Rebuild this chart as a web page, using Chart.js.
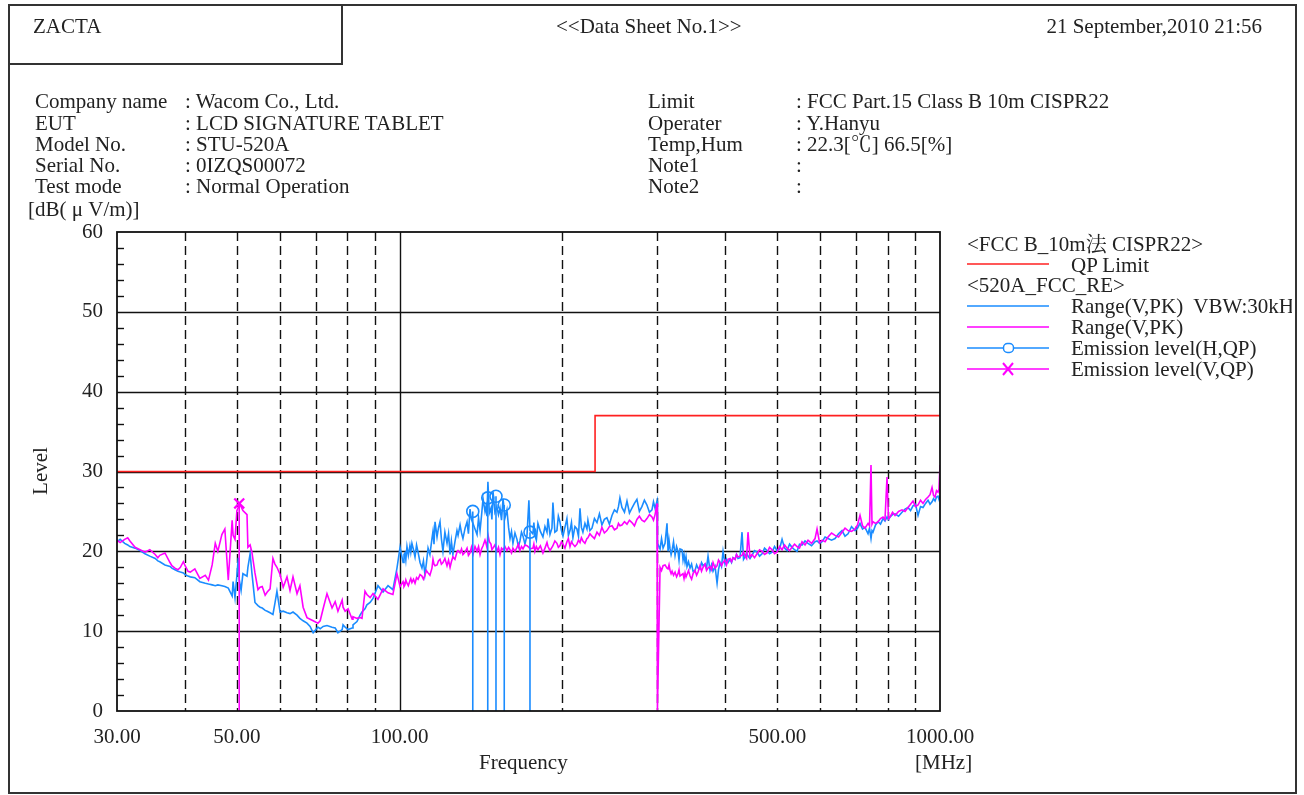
<!DOCTYPE html>
<html>
<head>
<meta charset="utf-8">
<script src="https://cdn.jsdelivr.net/npm/chart.js@4.4.0/dist/chart.umd.min.js"></script>
<style>
  html, body { margin: 0; padding: 0; background: #fff; }
  body {
    width: 1304px; height: 795px; position: relative; overflow: hidden;
    font-family: "Liberation Serif", "Noto Serif CJK JP", "Noto Sans CJK JP", serif;
    font-size: 21px; color: #222;
  }
  #chart { position: absolute; left: 0; top: 0; }
  .t { position: absolute; white-space: pre; line-height: 22px; z-index: 2; }
  .box { position: absolute; box-sizing: border-box; border: 2px solid #333; z-index: 3; }
  #legendSvg { position: absolute; left: 960px; top: 230px; z-index: 2; }
  #legendText { position: absolute; left: 0; top: 0; width: 1292px; height: 795px; overflow: hidden; z-index: 2; }
</style>
</head>
<body>
<canvas id="chart" width="1304" height="795"></canvas>

<div class="box" style="left:8px;top:4px;width:1289px;height:790px;"></div>
<div class="box" style="left:8px;top:4px;width:335px;height:61px;"></div>

<div class="t" style="left:33px;top:15px;">ZACTA</div>
<div class="t" style="left:556px;top:15px;">&lt;&lt;Data Sheet No.1&gt;&gt;</div>
<div class="t" style="right:42px;top:15px;">21 September,2010 21:56</div>

<div class="t" style="left:35px;top:90px;">Company name</div>
<div class="t" style="left:185px;top:90px;">: Wacom Co., Ltd.</div>
<div class="t" style="left:35px;top:112px;">EUT</div>
<div class="t" style="left:185px;top:112px;">: LCD SIGNATURE TABLET</div>
<div class="t" style="left:35px;top:133px;">Model No.</div>
<div class="t" style="left:185px;top:133px;">: STU-520A</div>
<div class="t" style="left:35px;top:154px;">Serial No.</div>
<div class="t" style="left:185px;top:154px;">: 0IZQS00072</div>
<div class="t" style="left:35px;top:175px;">Test mode</div>
<div class="t" style="left:185px;top:175px;">: Normal Operation</div>

<div class="t" style="left:648px;top:90px;">Limit</div>
<div class="t" style="left:796px;top:90px;">: FCC Part.15 Class B 10m CISPR22</div>
<div class="t" style="left:648px;top:112px;">Operater</div>
<div class="t" style="left:796px;top:112px;">: Y.Hanyu</div>
<div class="t" style="left:648px;top:133px;">Temp,Hum</div>
<div class="t" style="left:796px;top:133px;">: 22.3[℃] 66.5[%]</div>
<div class="t" style="left:648px;top:154px;">Note1</div>
<div class="t" style="left:796px;top:154px;">:</div>
<div class="t" style="left:648px;top:175px;">Note2</div>
<div class="t" style="left:796px;top:175px;">:</div>

<div class="t" style="left:28px;top:198px;">[dB( μ V/m)]</div>
<div class="t" style="left:14px;top:460px;width:52px;text-align:center;transform:rotate(-90deg);">Level</div>
<div class="t" style="left:479px;top:751px;">Frequency</div>
<div class="t" style="left:915px;top:751px;">[MHz]</div>

<div id="legendText">
  <div class="t" style="left:967px;top:233px;">&lt;FCC B_10m法 CISPR22&gt;</div>
  <div class="t" style="left:1071px;top:254px;">QP Limit</div>
  <div class="t" style="left:967px;top:274px;">&lt;520A_FCC_RE&gt;</div>
  <div class="t" style="left:1071px;top:295px;">Range(V,PK)  VBW:30kHz</div>
  <div class="t" style="left:1071px;top:316px;">Range(V,PK)</div>
  <div class="t" style="left:1071px;top:337px;">Emission level(H,QP)</div>
  <div class="t" style="left:1071px;top:358px;">Emission level(V,QP)</div>
</div>
<svg id="legendSvg" width="100" height="150">
  <line x1="7" y1="34" x2="89" y2="34" stroke="#ff2020" stroke-width="1.5"/>
  <line x1="7" y1="76" x2="89" y2="76" stroke="#1a8cff" stroke-width="1.5"/>
  <line x1="7" y1="97" x2="89" y2="97" stroke="#ff00ff" stroke-width="1.5"/>
  <line x1="7" y1="118" x2="89" y2="118" stroke="#1a8cff" stroke-width="1.5"/>
  <rect x="43.5" y="113.5" width="10" height="9" rx="4" fill="#fff" stroke="#1a8cff" stroke-width="1.5"/>
  <line x1="7" y1="139" x2="89" y2="139" stroke="#ff00ff" stroke-width="1.5"/>
  <line x1="43" y1="133" x2="53" y2="145" stroke="#ff00ff" stroke-width="2"/>
  <line x1="53" y1="133" x2="43" y2="145" stroke="#ff00ff" stroke-width="2"/>
</svg>

<script>
// 周波数 [MHz]
const freqs = [
  // 30 - 56 MHz
  30.0, 30.4, 31.0, 31.4, 31.7, 32.4, 33.1, 33.8, 34.5, 35.3, 35.7, 36.0, 36.8, 37.6, 37.9, 38.4, 38.9, 39.3, 39.8, 40.1,
  40.6, 41.0, 41.8, 42.7, 43.7, 44.3, 45.0, 45.6, 46.1, 46.9, 47.5, 48.2, 49.0, 49.2, 49.6, 50.0, 50.3, 50.5, 50.9, 51.3,
  52.2, 52.4, 52.9, 53.3, 54.0, 54.7, 55.2, 55.7, 56.4,
  // 56 - 100 MHz
  56.9, 57.6, 58.3, 58.8, 59.3, 60.1, 60.9, 61.9, 62.7, 63.5, 64.6, 65.4, 66.3, 67.4, 68.3, 69.2, 70.6, 71.3, 72.2, 73.4,
  75.0, 76.0, 76.9, 78.3, 78.6, 79.3, 80.3, 81.7, 82.0, 83.4, 84.5, 85.2, 86.3, 87.0, 88.2, 89.3, 91.2, 93.2, 95.2, 97.2,
  98.9, 100.2,
  // 100 - 175 MHz
  101.5, 101.9, 102.3, 102.7, 103.2, 103.8, 104.5, 104.9, 105.4, 106.1,
  106.8, 107.5, 108.2, 109.1, 110.0, 110.7, 111.4, 112.1, 112.9, 113.8,
  114.8, 115.3, 115.8, 116.3, 117.3, 118.0, 118.8, 119.5, 120.3, 121.3,
  122.4, 123.2, 124.0, 124.7, 125.5, 126.6, 127.7, 128.3, 129.4, 130.2,
  131.0, 132.2, 133.3, 134.1, 135.0, 135.8, 136.7, 137.9, 139.1, 140.0,
  140.9, 141.8, 142.7, 143.9, 144.5, 145.1, 145.7, 146.6, 147.6, 148.2,
  148.9, 150.1, 151.4, 152.4, 153.4, 154.4, 155.4, 156.7, 158.0, 159.1,
  160.1, 161.1, 162.1, 163.5, 164.9, 165.9, 167.0, 168.1, 169.2, 170.6,
  172.1, 173.5, 174.3,
  // 175 - 300 MHz
  176.5, 177.2, 178.0, 179.1, 180.3, 182.2, 184.2, 185.8, 187.4, 188.2,
  189.8, 191.4, 192.2, 193.8, 195.5, 196.7, 198.0, 199.3, 200.6, 202.3,
  204.0, 205.3, 206.7, 208.0, 209.3, 211.1, 212.9, 214.3, 215.7, 217.0,
  218.4, 220.3, 222.2, 223.1, 225.0, 227.0, 229.4, 231.9, 234.3, 236.8,
  239.3, 241.9, 244.5, 247.2, 249.8, 252.5, 254.1, 255.7, 257.9, 260.7,
  263.5, 266.3, 269.1, 272.0, 274.9, 277.8, 280.8, 283.8, 286.9, 290.0,
  293.1, 295.0, 297.0, 299.5, 300.0,
  // 300 - 545 MHz
  303.4, 305.3, 307.3, 309.9, 312.5, 313.9, 315.2, 316.6, 318.0, 319.3,
  321.3, 323.4, 325.5, 327.5, 328.9, 330.3, 333.2, 334.6, 336.0, 337.5,
  338.9, 340.3, 342.5, 344.7, 347.0, 349.2, 352.2, 354.5, 356.7, 359.7,
  362.0, 364.4, 367.5, 369.8, 372.2, 375.4, 377.8, 380.2, 383.5, 386.8,
  389.2, 391.7, 394.2, 396.8, 400.2, 402.7, 405.3, 408.8, 411.4, 414.0,
  417.6, 420.2, 422.9, 426.5, 430.2, 433.0, 435.7, 438.6, 441.3, 445.0,
  448.9, 453.7, 458.6, 463.5, 468.5, 473.5, 478.6, 483.7, 488.9, 494.1,
  499.4, 504.8, 510.2, 515.7, 521.2, 526.8, 532.4, 538.1, 543.8,
  // 545 - 1000 MHz
  549.6, 555.5, 562.7, 569.9, 578.5, 587.2, 592.2, 598.6, 605.0, 612.8,
  620.6, 630.0, 639.4, 649.0, 658.7, 667.2, 675.8, 686.0, 696.2, 703.7,
  711.2, 718.8, 726.5, 735.9, 740.6, 745.3, 748.5, 751.7, 759.8, 767.9,
  776.1, 784.4, 791.1, 797.9, 803.0, 808.2, 816.9, 825.6, 838.1, 850.6,
  861.6, 872.6, 882.0, 891.4, 901.0, 910.6, 920.4, 930.3, 940.3, 950.3,
  958.4, 966.6, 972.8, 979.1, 985.3, 991.6, 995.8, 1000.0
];

// Range(V,PK) VBW:30kHz [dB(uV/m)] (青)
const rangePkVbw = [
  21.2, 21.5, 21.0, 20.8, 20.6, 20.4, 20.1, 19.7, 19.4, 19.1, 18.8, 18.7, 18.3, 18.1, 17.9, 17.7, 17.5, 17.4, 17.3, 17.1,
  16.9, 16.8, 16.7, 16.2, 16.0, 15.9, 15.8, 15.7, 15.8, 15.7, 15.6, 15.4, 14.4, 16.2, 14.2, 17.0, 19.2, 16.5, 15.1, 17.2,
  16.9, 18.0, 19.7, 17.3, 13.6, 13.2, 13.0, 12.9, 12.6,
  12.5, 12.3, 12.1, 13.5, 15.0, 12.4, 12.5, 12.3, 12.2, 12.4, 12.0, 11.6, 11.3, 11.0, 10.6, 9.8, 10.5, 10.3, 10.6, 10.7,
  10.5, 10.4, 9.8, 10.2, 10.8, 10.5, 10.2, 10.4, 10.8, 11.2, 12.0, 12.4, 12.8, 13.3, 13.6, 14.1, 15.7, 14.9, 15.7, 15.2,
  17.9, 20.5,
  18.6, 19.6, 19.8, 18.9, 20.6, 19.5, 20.7, 19.9, 21.0, 20.2,
  19.3, 20.8, 19.9, 18.6, 17.9, 18.8, 17.1, 18.5, 20.4, 19.6,
  21.6, 22.5, 20.9, 23.7, 21.8, 22.9, 23.7, 21.6, 20.0, 22.4,
  21.0, 22.2, 19.6, 21.3, 19.6, 21.2, 22.6, 22.0, 23.3, 22.3,
  21.6, 22.9, 23.7, 22.2, 25.3, 24.0, 23.5, 22.8, 22.1, 24.2,
  22.6, 24.5, 26.6, 25.0, 25.6, 24.4, 28.7, 24.8, 25.4, 24.0,
  27.5, 24.9, 25.6, 24.6, 25.4, 23.9, 26.6, 24.2, 25.2, 23.0,
  21.6, 22.5, 21.0, 22.3, 21.5, 20.6, 21.3, 22.4, 21.9, 20.9,
  22.0, 26.4, 22.6,
  22.2, 23.6, 22.0, 21.4, 23.5, 22.5, 21.8, 23.1, 22.4, 24.1,
  22.1, 22.9, 26.1, 22.4, 22.6, 24.4, 23.7, 22.6, 21.9, 23.0,
  24.1, 22.0, 22.6, 23.6, 21.7, 23.1, 22.8, 21.9, 25.4, 23.0,
  22.4, 23.5, 22.8, 23.9, 22.6, 22.9, 24.1, 23.6, 24.7, 23.3,
  24.0, 24.2, 23.4, 24.5, 25.2, 24.9, 25.6, 26.7, 25.5, 24.9,
  26.3, 24.8, 25.4, 26.0, 26.5, 25.0, 25.6, 26.4, 25.8, 24.9,
  25.2, 26.2, 25.4, 26.3, 21.0,
  20.3, 21.6, 20.4, 21.0, 23.5, 20.0, 21.4, 20.3, 19.6, 20.1,
  21.2, 19.5, 20.6, 20.0, 18.9, 20.3, 20.2, 18.9, 19.6, 18.6,
  19.3, 18.1, 18.7, 17.9, 18.4, 17.5, 17.6, 18.3, 17.9, 17.8,
  18.6, 18.2, 18.4, 17.9, 19.4, 17.6, 18.3, 17.5, 18.1, 16.0,
  17.7, 18.6, 18.1, 20.0, 18.4, 19.0, 18.6, 19.0, 18.6, 19.2,
  19.0, 19.6, 19.1, 19.2, 22.4, 19.0, 19.3, 19.8, 19.4, 19.1,
  19.5, 20.1, 19.9, 19.4, 19.7, 20.4, 20.1, 19.7, 19.9, 20.6,
  20.1, 20.3, 21.5, 20.4, 20.1, 20.9, 20.5, 20.2, 20.0,
  20.9, 20.8, 21.3, 21.0, 20.7, 21.2, 21.3, 21.0, 21.2, 21.8,
  21.6, 21.4, 21.6, 22.2, 22.6, 21.9, 22.2, 23.1, 22.6, 22.9,
  23.5, 22.8, 23.0, 22.2, 22.9, 21.6, 22.6, 22.4, 23.3, 23.7,
  23.4, 24.1, 23.8, 24.3, 24.0, 24.3, 24.6, 24.7, 24.4, 24.9,
  25.3, 25.5, 25.1, 25.7, 25.9, 24.5, 25.6, 25.5, 26.0, 26.4,
  25.9, 26.2, 26.6, 26.3, 26.8, 26.9, 26.5, 26.9
];

// Range(V,PK) [dB(uV/m)] (マゼンタ)
const rangePk = [
  21.4, 21.1, 21.5, 21.7, 21.3, 20.5, 20.2, 19.9, 20.2, 19.6, 19.2, 19.5, 19.8, 18.6, 18.2, 17.9, 17.7, 18.0, 18.7, 18.2,
  17.5, 17.4, 17.8, 16.6, 17.0, 16.4, 18.3, 21.0, 20.0, 22.1, 22.8, 16.4, 23.9, 22.0, 21.5, 25.1, 25.5, 26.0, 25.6, 25.1,
  24.6, 20.5, 20.8, 19.9, 17.3, 15.2, 15.5, 15.6, 14.5,
  14.9, 15.3, 19.1, 18.4, 18.0, 17.1, 15.5, 16.8, 15.1, 16.8, 14.7, 15.7, 13.0, 11.7, 11.5, 11.3, 11.0, 11.3, 12.8, 14.7,
  12.9, 13.7, 12.5, 13.9, 13.0, 12.5, 12.8, 11.5, 11.8, 11.6, 11.7, 11.6, 15.0, 14.6, 14.2, 14.7, 14.0, 15.3, 14.8, 14.6,
  17.2, 15.6,
  16.2, 15.6, 15.8, 16.4, 16.0, 15.7, 16.3, 16.6, 16.1, 16.5,
  16.0, 16.7, 16.5, 17.1, 16.9, 16.5, 17.0, 17.6, 17.3, 17.0,
  17.9, 19.0, 18.4, 18.2, 18.3, 18.8, 19.0, 18.4, 18.6, 19.1,
  18.2, 18.9, 18.0, 18.7, 19.3, 19.0, 19.9, 20.1, 19.8, 20.3,
  19.6, 19.9, 20.4, 19.5, 19.8, 20.5, 19.6, 20.6, 20.0, 20.6,
  19.6, 20.3, 20.7, 21.4, 21.0, 20.5, 22.1, 21.2, 20.9, 20.2,
  20.4, 20.8, 20.0, 20.5, 19.6, 20.4, 20.2, 20.6, 20.1, 20.5,
  20.2, 19.8, 20.4, 20.0, 20.5, 20.9, 20.1, 20.6, 20.3, 20.8,
  20.7, 20.5, 20.3,
  20.4, 20.9, 20.0, 20.6, 20.2, 20.7, 19.8, 20.4, 21.1, 20.6,
  20.1, 20.5, 20.7, 21.3, 21.0, 20.5, 20.7, 21.2, 20.9, 20.4,
  21.2, 21.6, 20.6, 21.2, 20.9, 20.6, 20.9, 21.4, 21.1, 21.7,
  21.3, 21.0, 21.6, 21.7, 22.2, 21.9, 21.6, 22.4, 22.0, 23.0,
  22.3, 22.6, 23.1, 23.2, 22.7, 22.9, 23.5, 23.2, 23.3, 23.7,
  23.4, 23.9, 23.6, 23.2, 24.0, 24.4, 23.9, 23.7, 24.1, 24.6,
  24.3, 23.9, 24.6, 26.0, 0,
  18.0, 17.6, 18.2, 18.3, 17.9, 17.8, 18.3, 17.6, 17.2, 17.5,
  17.0, 17.4, 16.8, 17.2, 17.7, 16.9, 17.1, 17.2, 16.6, 17.3,
  16.8, 17.1, 17.6, 16.9, 16.5, 17.2, 17.6, 17.0, 17.4, 18.2,
  17.5, 18.0, 18.4, 17.6, 17.9, 18.1, 17.7, 18.6, 17.9, 18.2,
  18.9, 18.6, 18.2, 18.6, 18.9, 18.3, 19.0, 19.1, 18.7, 19.2,
  19.0, 19.6, 19.3, 19.4, 19.5, 19.9, 19.4, 19.1, 22.4, 19.3,
  19.6, 19.2, 19.7, 20.2, 20.0, 19.6, 19.8, 20.5, 20.2, 19.7,
  19.9, 20.6, 20.2, 20.8, 20.4, 20.1, 20.5, 20.9, 20.6,
  20.4, 21.2, 20.8, 21.4, 21.0, 21.6, 22.8, 21.1, 21.4, 21.2,
  21.8, 22.3, 22.0, 21.8, 22.4, 22.9, 22.6, 22.5, 22.8, 23.3,
  24.5, 23.2, 22.9, 23.5, 23.2, 30.8, 23.4, 23.7, 23.5, 23.7,
  24.1, 24.3, 24.0, 29.3, 24.1, 24.3, 24.9, 24.5, 25.0, 25.2,
  25.0, 25.5, 25.9, 26.3, 25.6, 25.8, 26.4, 26.0, 26.5, 26.8,
  27.1, 28.0, 27.0, 26.8, 27.6, 27.4, 27.8, 30.8
];

// QP Limit (FCC B 10m)
const limitFreqs = [30, 230, 230, 1000];
const limitLevels = [30, 30, 37, 37];

// Emission level (H,QP) / (V,QP)
const qpHFreqs = [136.6, 145.6, 150.8, 156.2, 174.3];
const qpHLevels = [25.0, 26.7, 26.9, 25.8, 22.4];
const qpVFreqs = [50.5];
const qpVLevels = [26.0];

// 軸目盛
const freqTicks = [30, 40, 50, 60, 70, 80, 90, 100, 200, 300, 400, 500, 600, 700, 800, 900, 1000];
const freqLabels = [30, 50, 100, 500, 1000];
const solidFreqs = [100];
const levelTicks = [0, 10, 20, 30, 40, 50, 60];

const RED = "#ff2020";
const BLUE = "#1a8cff";
const MAGENTA = "#ff00ff";
const FONT = { family: "Liberation Serif", size: 21 };

if (freqs.length !== rangePkVbw.length || freqs.length !== rangePk.length) {
    console.warn("length mismatch", freqs.length, rangePkVbw.length, rangePk.length);
}

const toXY = (xs, ys) => xs.map((x, i) => ({ x: x, y: ys[i] }));
// QP の縦線 (0 から測定値まで)
const toStems = (xs, ys) => xs.flatMap((x, i) => [{ x: x, y: 0 }, { x: x, y: ys[i] }, { x: x, y: null }]);

// 格子と枠
const sheetGrid = {
    id: "sheetGrid",
    beforeDatasetsDraw(chart) {
        const { ctx, chartArea: a, scales } = chart;
        const xs = scales.x, ys = scales.y;
        ctx.save();
        ctx.strokeStyle = "#111";
        ctx.lineWidth = 1.4;
        levelTicks.forEach(v => {
            if (v <= 0 || v >= 60) return;
            const py = Math.round(ys.getPixelForValue(v)) + 0.5;
            ctx.beginPath(); ctx.moveTo(a.left, py); ctx.lineTo(a.right, py); ctx.stroke();
        });
        // 2 dB 毎の小目盛
        for (let v = 2; v < 60; v += 2) {
            if (v % 10 === 0) continue;
            const py = Math.round(ys.getPixelForValue(v)) + 0.5;
            ctx.beginPath(); ctx.moveTo(a.left, py); ctx.lineTo(a.left + 7, py); ctx.stroke();
        }
        freqTicks.forEach(f => {
            if (f <= 30 || f >= 1000) return;
            const px = Math.round(xs.getPixelForValue(f)) + 0.5;
            ctx.setLineDash(solidFreqs.includes(f) ? [] : [9, 5]);
            ctx.beginPath(); ctx.moveTo(px, a.top); ctx.lineTo(px, a.bottom); ctx.stroke();
        });
        ctx.restore();
    },
    afterDatasetsDraw(chart) {
        const { ctx, chartArea: a } = chart;
        ctx.save();
        ctx.strokeStyle = "#111";
        ctx.lineWidth = 1.8;
        ctx.strokeRect(a.left, a.top, a.right - a.left, a.bottom - a.top);
        ctx.restore();
    }
};

new Chart(document.getElementById("chart"), {
    type: "line",
    data: {
        datasets: [
            {
                label: "QP Limit",
                data: toXY(limitFreqs, limitLevels),
                borderColor: RED, borderWidth: 1.6, pointRadius: 0, order: 5
            },
            {
                label: "Range(V,PK) VBW:30kHz",
                data: toXY(freqs, rangePkVbw),
                borderColor: BLUE, borderWidth: 1.6, pointRadius: 0, order: 4
            },
            {
                label: "Range(V,PK)",
                data: toXY(freqs, rangePk),
                borderColor: MAGENTA, borderWidth: 1.6, pointRadius: 0, order: 3
            },
            {
                label: "Emission level(H,QP) stem",
                data: toStems(qpHFreqs, qpHLevels),
                borderColor: BLUE, borderWidth: 1.6, pointRadius: 0, spanGaps: false, order: 2
            },
            {
                label: "Emission level(H,QP)",
                data: toXY(qpHFreqs, qpHLevels),
                showLine: false, pointStyle: "circle", pointRadius: 6,
                borderColor: BLUE, backgroundColor: "rgba(0,0,0,0)", pointBorderWidth: 1.6, order: 1
            },
            {
                label: "Emission level(V,QP) stem",
                data: toStems(qpVFreqs, qpVLevels),
                borderColor: MAGENTA, borderWidth: 1.6, pointRadius: 0, spanGaps: false, order: 2
            },
            {
                label: "Emission level(V,QP)",
                data: toXY(qpVFreqs, qpVLevels),
                showLine: false, pointStyle: "crossRot", pointRadius: 7,
                borderColor: MAGENTA, pointBorderWidth: 2.2, order: 0
            }
        ]
    },
    options: {
        responsive: false,
        animation: false,
        events: [],
        layout: { padding: { left: 57, top: 232, right: 364, bottom: 34 } },
        plugins: { legend: { display: false }, tooltip: { enabled: false } },
        scales: {
            x: {
                type: "logarithmic", min: 30, max: 1000,
                grid: { display: false, drawTicks: false },
                border: { display: false },
                afterBuildTicks: s => { s.ticks = freqTicks.map(v => ({ value: v })); },
                afterFit: s => { s.height = 50; },
                ticks: {
                    autoSkip: false, maxRotation: 0, minRotation: 0, padding: 14,
                    color: "#222", font: FONT,
                    callback: v => freqLabels.includes(v) ? v.toFixed(2) : ""
                }
            },
            y: {
                min: 0, max: 60,
                grid: { display: false, drawTicks: false },
                border: { display: false },
                afterBuildTicks: s => { s.ticks = levelTicks.map(v => ({ value: v })); },
                afterFit: s => { s.width = 60; },
                ticks: { padding: 14, color: "#222", font: FONT, callback: v => String(v) }
            }
        }
    },
    plugins: [sheetGrid]
});
</script>
</body>
</html>
